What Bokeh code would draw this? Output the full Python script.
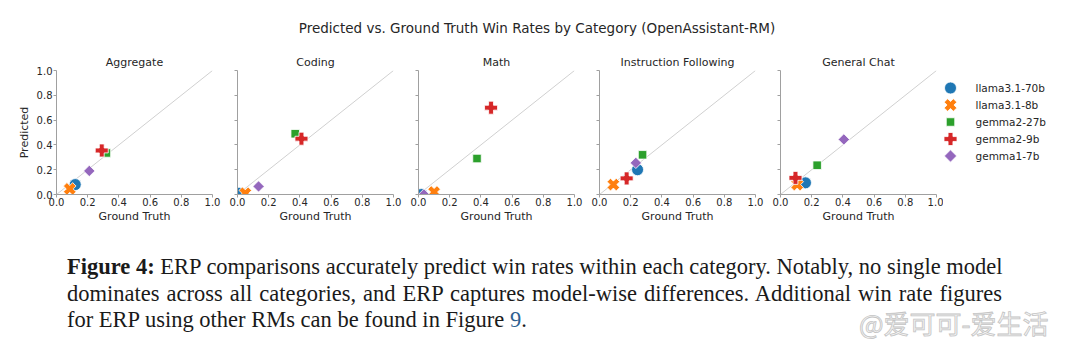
import math
from bokeh.plotting import figure
from bokeh.layouts import row, column
from bokeh.models import (Range1d, FixedTicker, PrintfTickFormatter,
                          CustomJSTickFormatter, Div)
from bokeh.embed import file_html
from bokeh.resources import INLINE
from bokeh.core.properties import value

main_title = "Predicted vs. Ground Truth Win Rates by Category (OpenAssistant-RM)"
categories = ["Aggregate", "Coding", "Math", "Instruction Following", "General Chat"]
models = ["llama3.1-70b", "llama3.1-8b", "gemma2-27b", "gemma2-9b", "gemma1-7b"]
ticks = [0.0, 0.2, 0.4, 0.6, 0.8, 1.0]
diag = [0.0, 1.0]

# values per model (order of `models`)
gt_aggregate = [0.12, 0.085, 0.32, 0.29, 0.21]
pred_aggregate = [0.08, 0.045, 0.335, 0.355, 0.19]
gt_coding = [0.01, 0.05, 0.37, 0.41, 0.135]
pred_coding = [0.01, 0.01, 0.49, 0.45, 0.065]
gt_math = [0.02, 0.10, 0.375, 0.465, 0.035]
pred_math = [0.0, 0.02, 0.29, 0.70, 0.0]
gt_instr = [0.244, 0.089, 0.276, 0.174, 0.233]
pred_instr = [0.20, 0.08, 0.32, 0.13, 0.255]
gt_chat = [0.16, 0.107, 0.235, 0.096, 0.406]
pred_chat = [0.094, 0.08, 0.236, 0.134, 0.444]

gt_all = [gt_aggregate, gt_coding, gt_math, gt_instr, gt_chat]
pred_all = [pred_aggregate, pred_coding, pred_math, pred_instr, pred_chat]

colors = ["#1f77b4", "#ff7f0e", "#2ca02c", "#d62728", "#9467bd"]
markers = ["circle", "plus", "square", "plus", "square"]
angles = [0.0, math.pi / 4, 0.0, 0.0, math.pi / 4]
sizes = [12, 13, 8.5, 13, 8]

FONT = "DejaVu Sans"
TXT = "#262626"
SPINE = "#a0a0a0"


def style_axis(ax, labels=True):
    ax.ticker = FixedTicker(ticks=ticks)
    if labels:
        ax.formatter = PrintfTickFormatter(format="%.1f")
    else:
        ax.formatter = CustomJSTickFormatter(code="return ''")
    ax.major_label_text_font = FONT
    ax.major_label_text_font_size = "10px"
    ax.major_label_text_color = TXT
    ax.axis_label_text_font = FONT
    ax.axis_label_text_font_size = "11px"
    ax.axis_label_text_font_style = "normal"
    ax.axis_label_text_color = TXT
    ax.axis_line_color = SPINE
    ax.major_tick_line_color = SPINE
    ax.major_tick_out = 3
    ax.major_tick_in = 0
    ax.minor_tick_out = 0
    ax.minor_tick_in = 0
    ax.major_label_standoff = 1
    ax.axis_label_standoff = 1


header = figure(width=1073, height=45, x_range=Range1d(0, 1), y_range=Range1d(0, 1),
                x_axis_type=None, y_axis_type=None, output_backend="svg",
                toolbar_location=None, min_border=0)
header.outline_line_color = None
header.grid.visible = False
header.text(x=[0.5], y=[0.4], text=[main_title], text_align="center", text_baseline="middle",
            text_font=value(FONT), text_font_size="13.5px", text_color=TXT)

panels = []
for i, cat in enumerate(categories):
    first = i == 0
    last = i == len(categories) - 1
    left = 56 if first else 13
    right = 7 if last else 12
    p = figure(width=left + 156 + right, height=180, x_range=Range1d(0, 1), y_range=Range1d(0, 1),
               output_backend="svg", toolbar_location=None, title=cat,
               min_border_left=left, min_border_right=right, min_border_top=25, min_border_bottom=31)
    p.outline_line_color = None
    p.grid.visible = False
    p.title.align = "center"
    p.title.text_font = FONT
    p.title.text_font_size = "11px"
    p.title.text_font_style = "normal"
    p.title.text_color = TXT
    p.title.standoff = 3
    style_axis(p.xaxis[0])
    p.xaxis.major_label_standoff = 0
    p.xaxis.axis_label = "Ground Truth"
    style_axis(p.yaxis[0], labels=first)
    if first:
        p.yaxis.axis_label = "Predicted"
        p.yaxis.axis_label_standoff = 3
    p.line(diag, diag, line_color="#d0d0d0", line_width=1)
    for j, m in enumerate(models):
        p.scatter(x=[gt_all[i][j]], y=[pred_all[i][j]], marker=markers[j], angle=angles[j],
                  size=sizes[j], fill_color=colors[j], line_color="white", line_width=0.8)
    panels.append(p)

# legend as a small plot: one key per model (row index), names on a right-hand axis
legend_key_x = 0.5
legend_rows = [-k for k in range(len(models))]
lf = figure(width=130, height=180, x_range=Range1d(0, 1), y_range=Range1d(-6.265, 1.03),
            y_axis_location="right", x_axis_type=None, output_backend="svg",
            toolbar_location=None, min_border_left=0, min_border_right=116,
            min_border_top=25, min_border_bottom=31)
lf.outline_line_color = None
lf.grid.visible = False
lf.yaxis.ticker = FixedTicker(ticks=legend_rows)
lf.yaxis.formatter = CustomJSTickFormatter(args=dict(names=models),
                                           code="return names[Math.round(-tick)]")
lf.yaxis.axis_line_color = None
lf.yaxis.major_tick_line_color = None
lf.yaxis.minor_tick_line_color = None
lf.yaxis.major_label_standoff = 12
lf.yaxis.major_label_text_font = FONT
lf.yaxis.major_label_text_font_size = "10.5px"
lf.yaxis.major_label_text_color = TXT
legend_sizes = [12, 13, 8.5, 13, 8.7]
for j, m in enumerate(models):
    lf.scatter(x=[legend_key_x], y=[legend_rows[j]], marker=markers[j], angle=angles[j],
               size=legend_sizes[j], fill_color=colors[j], line_color="white", line_width=0.8)

caption_html = """
<div style="position:relative;width:1073px;height:115px;">
 <div style="position:absolute;left:62px;top:24px;width:935px;line-height:26.5px;
             font-family:'Liberation Serif';font-size:22.5px;color:#1a1a1a;">
  <div style="text-align:justify;text-align-last:justify;white-space:nowrap;"><b>Figure 4:</b> ERP comparisons accurately predict win rates within each category. Notably, no single model</div>
  <div style="text-align:justify;text-align-last:justify;white-space:nowrap;">dominates across all categories, and ERP captures model-wise differences. Additional win rate figures</div>
  <div style="white-space:nowrap;">for ERP using other RMs can be found in Figure <span style="color:#2f6190;">9</span>.</div>
 </div>
 <div style="position:absolute;left:854px;top:82px;font-family:'Noto Sans CJK SC';font-size:26px;
             line-height:22px;color:#f4f4f4;-webkit-text-stroke:0.8px #c4c4c4;white-space:nowrap;">@爱可可-爱生活</div>
</div>
"""
caption = Div(text=caption_html, width=1073, height=115)

layout = column(header, row(*panels, lf), caption)
open("out.html", "w").write(file_html(layout, INLINE))
